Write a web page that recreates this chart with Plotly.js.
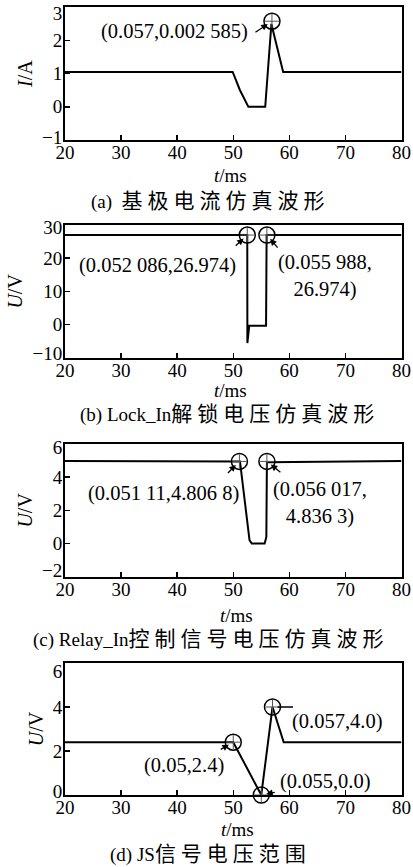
<!DOCTYPE html>
<html>
<head>
<meta charset="utf-8">
<script src="https://cdn.plot.ly/plotly-3.0.1.min.js"></script>
<style>html,body{margin:0;padding:0;background:#fff;}</style>
</head>
<body>
<div id="chart" style="width:413px;height:867px;"></div>
<script>
// ---- data ----
const tA = [20, 49.9, 51.2, 52.7, 55.7, 56.8, 58.9, 80];
const iA = [1.05, 1.05, 0.5, 0, 0, 2.5, 1.05, 1.05];
const tB = [20, 52.5, 52.52, 52.65, 52.85, 55.85, 55.95, 80];
const uB = [26.97, 26.97, -5.6, -2.5, -0.4, -0.4, 26.97, 26.97];
const tC = [20, 51.2, 52.9, 53.3, 55.6, 55.9, 56.0, 80];
const uC = [4.98, 4.95, 0.2, 0.0, 0.0, 0.4, 4.9, 4.98];
const tD = [20, 50, 55, 57, 59, 80];
const uD = [2.4, 2.4, 0, 4, 2.4, 2.4];

const mkAx = [56.9], mkAy = [2.58];
const mkBx = [52.5, 56.0], mkBy = [26.97, 26.97];
const mkCx = [51.1, 56.0], mkCy = [4.95, 4.95];
const mkDx = [50, 55, 57], mkDy = [2.4, 0, 4];

const labA = ['(0.057,0.002 585)'];
const labB = ['(0.052 086,26.974)', '(0.055 988,<br>26.974)'];
const labC = ['(0.051 11,4.806 8)', '(0.056 017,<br>4.836 3)'];
const labD = ['(0.05,2.4)', '(0.055,0.0)', '(0.057,4.0)'];

const captions = [
  ['(a)  ', '基极电流仿真波形'],
  ['(b) Lock_In', '解锁电压仿真波形'],
  ['(c) Relay_In', '控制信号电压仿真波形'],
  ['(d) JS', '信号电压范围']
];
const xTitle = '<i>t</i>/ms';
const yTitles = ['<i>I</i>/A', '<i>U</i>/V', '<i>U</i>/V', '<i>U</i>/V'];
const xTicks = [20, 30, 40, 50, 60, 70, 80];
const yRanges = [[-1, 3], [-10, 30], [-2, 6], [0, 6]];
const yTicks = [[-1, 0, 1, 2, 3], [-10, 0, 10, 20, 30], [-2, 0, 2, 4, 6], [0, 2, 4, 6]];
const yTickText = [['−1', '0', '1', '2', '3'], ['−10', '0', '10', '20', '30'],
                   ['−2', '0', '2', '4', '6'], ['0', '2', '4', '6']];

// ---- styling ----
const FONT = 'Liberation Serif, Times New Roman, Noto Sans CJK SC, serif';
const W = 413, H = 867;
const xDom = [65 / W, 401.5 / W];
const frames = [[7.3, 140], [225, 357.7], [444, 576.7], [663, 795]];
const yDom = frames.map(f => [1 - f[1] / H, 1 - f[0] / H]);
// label nudges in px (positive = down) for the top and bottom y tick labels, as in the reference
const topNudge = [5.6, 2.3, 3.3, 8.0];
const botNudge = [-3, -4.4, -6.7, -4];
const CLEAR = 'rgba(0,0,0,0)';

function line(x, y, i) {
  const s = i === 0 ? '' : String(i + 1);
  return {x: x, y: y, xaxis: 'x' + s, yaxis: 'y' + s, mode: 'lines',
    line: {color: 'black', width: 2}, hoverinfo: 'skip'};
}
function marks(x, y, i) {
  const s = i === 0 ? '' : String(i + 1);
  return [
    {x: x, y: y, xaxis: 'x' + s, yaxis: 'y' + s, mode: 'markers', cliponaxis: false,
     marker: {symbol: 'circle-open', size: 16, color: 'black', line: {width: 1.5, color: 'black'}}},
    {x: x, y: y, xaxis: 'x' + s, yaxis: 'y' + s, mode: 'markers', cliponaxis: false,
     marker: {symbol: 'cross-thin-open', size: 10, color: '#555', line: {width: 1, color: '#555'}}}
  ];
}
function dummy(i) {
  const s = i === 0 ? '' : String(i + 1);
  return {x: [], y: [], xaxis: 'x' + s, yaxis: 'y' + (i + 5), mode: 'lines', hoverinfo: 'skip'};
}

const data = [
  line(tA, iA, 0), line(tB, uB, 1), line(tC, uC, 2), line(tD, uD, 3),
  ...marks(mkAx, mkAy, 0), ...marks(mkBx, mkBy, 1), ...marks(mkCx, mkCy, 2), ...marks(mkDx, mkDy, 3),
  dummy(0), dummy(1), dummy(2), dummy(3)
];

function xa(i) {
  return {domain: xDom, range: [20, 80], anchor: i === 0 ? 'y' : 'y' + (i + 1),
    tickvals: xTicks, ticks: 'inside', ticklen: 5, tickwidth: 1.5, tickcolor: 'black',
    showline: true, linecolor: 'black', linewidth: 2, mirror: true,
    showgrid: false, zeroline: false, fixedrange: true, ticklabelstandoff: -6,
    ticklabeloverflow: 'allow',
    tickfont: {family: FONT, size: 19, color: 'black'}};
}
// main y axis: frame and tick marks
function ya(i) {
  return {domain: yDom[i], range: yRanges[i], tickvals: yTicks[i], showticklabels: false,
    anchor: i === 0 ? 'x' : 'x' + (i + 1),
    ticks: 'inside', ticklen: 5, tickwidth: 1.5, tickcolor: 'black',
    showline: true, linecolor: 'black', linewidth: 2, mirror: true,
    showgrid: false, zeroline: false, fixedrange: true};
}
// overlay y axis: tick labels and title (extreme labels nudged inward as in the reference)
function yl(i) {
  const r = yRanges[i];
  const pxPerUnit = (frames[i][1] - frames[i][0]) / (r[1] - r[0]);
  const vals = yTicks[i].map(v => {
    if (v === r[1]) return v - topNudge[i] / pxPerUnit;
    if (v === r[0]) return v - botNudge[i] / pxPerUnit;
    return v;
  });
  return {overlaying: i === 0 ? 'y' : 'y' + (i + 1), side: 'left',
    anchor: i === 0 ? 'x' : 'x' + (i + 1), range: r,
    tickvals: vals, ticktext: yTickText[i],
    ticks: 'inside', ticklen: 5, tickwidth: 1.5, tickcolor: CLEAR,
    showline: true, linecolor: CLEAR, linewidth: 2,
    showgrid: false, zeroline: false, fixedrange: true, ticklabelstandoff: -3,
    ticklabeloverflow: 'allow',
    tickfont: {family: FONT, size: 19, color: 'black'},
    title: {text: yTitles[i], font: {family: FONT, size: 20, color: 'black'}, standoff: 4}};
}

function arrow(xr, x, y, ax, ay, head) {
  return {xref: xr, yref: xr.replace('x', 'y'), x: x, y: y, ax: ax, ay: ay, text: '',
    showarrow: true, arrowhead: head, arrowsize: 1, arrowwidth: 1.3, arrowcolor: 'black', standoff: 5};
}
function label(xr, x, y, text) {
  return {xref: xr, yref: xr.replace('x', 'y'), x: x, y: y, text: text, showarrow: false,
    xanchor: 'center', yanchor: 'middle', align: 'center',
    font: {family: FONT, size: 20.5, color: 'black'}};
}
function paperText(xc, yc, text, size) {
  return {xref: 'paper', yref: 'paper', x: xc / W, y: 1 - yc / H, showarrow: false,
    xanchor: 'center', yanchor: 'middle', text: text,
    font: {family: FONT, size: size, color: 'black'}};
}
function caption(i, xc, yc) {
  return paperText(xc, yc, captions[i][0] +
    '<span style="font-size:21px;letter-spacing:5px">' + captions[i][1] + '</span>', 19);
}

const annotations = [
  // (a)
  arrow('x', mkAx[0], mkAy[0], -18, 12, 2),
  label('x', 39.5, 2.26, labA[0]),
  // (b)
  arrow('x2', mkBx[0], mkBy[0], -13, 12, 2),
  arrow('x2', mkBx[1], mkBy[1], 12, 14, 2),
  label('x2', 36.5, 17.9, labB[0]),
  label('x2', 66.4, 14.6, labB[1]),
  // (c)
  arrow('x3', mkCx[0], mkCy[0], -13, 13, 2),
  arrow('x3', mkCx[1], mkCy[1], 15, 12, 2),
  label('x3', 37.5, 3.03, labC[0]),
  label('x3', 65.4, 2.44, labC[1]),
  // (d)
  arrow('x4', mkDx[0], mkDy[0], -14, 8, 2),
  arrow('x4', mkDx[1], mkDy[1], 15, -3, 2),
  arrow('x4', mkDx[2], mkDy[2], 22, 0, 0),
  label('x4', 41.25, 1.36, labD[0]),
  label('x4', 66.4, 0.6, labD[1]),
  label('x4', 68.5, 3.33, labD[2]),
  // x axis titles
  paperText(230, 175, xTitle, 19),
  paperText(231, 391, xTitle, 19),
  paperText(236, 615, xTitle, 19),
  paperText(237, 829, xTitle, 19),
  // captions
  caption(0, 210, 201),
  caption(1, 229, 414),
  caption(2, 210, 639),
  caption(3, 210, 854)
];

const layout = {
  width: W, height: H, margin: {l: 0, r: 0, t: 0, b: 0},
  paper_bgcolor: 'white', plot_bgcolor: 'white', showlegend: false,
  font: {family: FONT, color: 'black'},
  xaxis: xa(0), xaxis2: xa(1), xaxis3: xa(2), xaxis4: xa(3),
  yaxis: ya(0), yaxis2: ya(1), yaxis3: ya(2), yaxis4: ya(3),
  yaxis5: yl(0), yaxis6: yl(1), yaxis7: yl(2), yaxis8: yl(3),
  annotations: annotations
};

Plotly.newPlot('chart', data, layout, {staticPlot: true, displayModeBar: false});
</script>
</body>
</html>
